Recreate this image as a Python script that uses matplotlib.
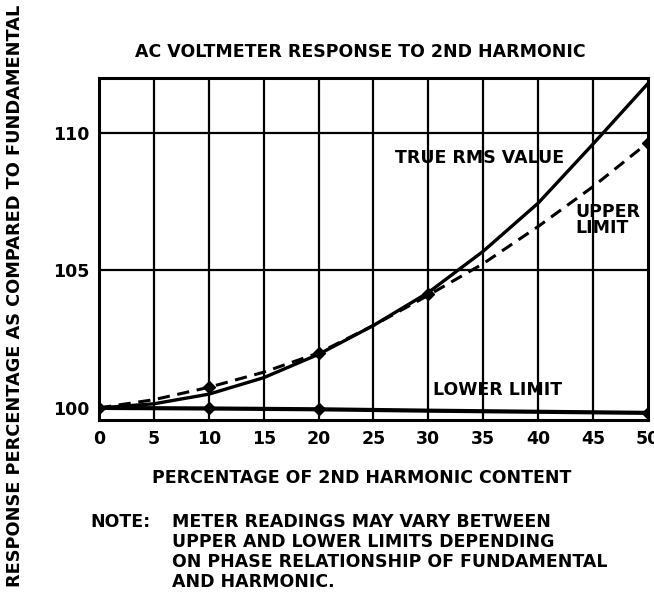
import matplotlib
matplotlib.use("Agg")
import matplotlib.pyplot as plt

# values
harmonic = [0, 5, 10, 15, 20, 25, 30, 35, 40, 45, 50]
true_rms = [100.0, 100.15, 100.5, 101.1, 101.95, 103.0, 104.2, 105.7, 107.45, 109.6, 111.8]
upper_limit = [100.0, 100.3, 100.75, 101.3, 102.0, 103.0, 104.1, 105.25, 106.6, 108.05, 109.65]
lower_x = [0, 10, 20, 30, 40, 50]
lower_limit = [100.0, 99.98, 99.95, 99.9, 99.86, 99.82]

upper_pts_x = [10, 20, 30, 50]
upper_pts_y = [100.75, 102.0, 104.15, 109.65]
lower_pts_x = [0, 10, 20, 50]
lower_pts_y = [100.0, 99.98, 99.95, 99.82]

x_ticks = [0, 5, 10, 15, 20, 25, 30, 35, 40, 45, 50]
y_ticks = [100, 105, 110]

plt.rcParams["font.family"] = "DejaVu Sans"
plt.rcParams["font.weight"] = "bold"
FS = 12.5

fig = plt.figure(figsize=(6.54, 5.93), dpi=100)
ax = fig.add_axes([0.1514, 0.2917, 0.8394, 0.5768])

for xv in x_ticks[1:-1]:
    ax.axvline(xv, color="black", linewidth=1.6, zorder=1)
for yv in y_ticks[1:]:
    ax.axhline(yv, color="black", linewidth=1.6, zorder=1)

ax.plot(harmonic, true_rms, "-", color="black", linewidth=2.4, zorder=3)
ax.plot(harmonic, upper_limit, "--", color="black", linewidth=2.2, dashes=(4, 2.5), zorder=3)
ax.plot(lower_x, lower_limit, "-", color="black", linewidth=3.0, zorder=3)
ax.plot(upper_pts_x, upper_pts_y, "D", color="black", markersize=6, zorder=4)
ax.plot(lower_pts_x, lower_pts_y, "D", color="black", markersize=6, zorder=4)

ax.text(27.0, 109.1, "TRUE RMS VALUE", fontsize=FS, fontweight="bold", va="center", ha="left")
ax.text(43.4, 106.85, "UPPER\nLIMIT", fontsize=FS, fontweight="bold", va="center", ha="left",
        linespacing=0.85)
ax.text(30.4, 100.65, "LOWER LIMIT", fontsize=FS, fontweight="bold", va="center", ha="left")

ax.set_xlim(0, 50)
ax.set_ylim(99.56, 112.0)
ax.set_xticks(x_ticks)
ax.set_xticklabels([str(t) for t in x_ticks], fontsize=FS, fontweight="bold")
ax.set_yticks(y_ticks)
ax.set_yticklabels([str(t) for t in y_ticks], fontsize=FS, fontweight="bold")
ax.tick_params(length=0, pad=7)
for s in ax.spines.values():
    s.set_linewidth(2.2)

fig.text(360 / 654, 1 - 52 / 593, "AC VOLTMETER RESPONSE TO 2ND HARMONIC", fontsize=FS,
         fontweight="bold", ha="center", va="center")
fig.text(362 / 654, 1 - 478 / 593, "PERCENTAGE OF 2ND HARMONIC CONTENT", fontsize=FS,
         fontweight="bold", ha="center", va="center")
fig.text(15 / 654, 1 - 296 / 593, "RESPONSE PERCENTAGE AS COMPARED TO FUNDAMENTAL", fontsize=12.8,
         fontweight="bold", rotation=90, ha="center", va="center")

fig.text(90 / 654, 1 - 522 / 593, "NOTE:", fontsize=FS, fontweight="bold", ha="left", va="center")
note_lines = ["METER READINGS MAY VARY BETWEEN",
              "UPPER AND LOWER LIMITS DEPENDING",
              "ON PHASE RELATIONSHIP OF FUNDAMENTAL",
              "AND HARMONIC."]
for i, line in enumerate(note_lines):
    fig.text(172 / 654, 1 - (522 + 20 * i) / 593, line, fontsize=FS, fontweight="bold",
             ha="left", va="center")

fig.savefig("out.png", dpi=100)
